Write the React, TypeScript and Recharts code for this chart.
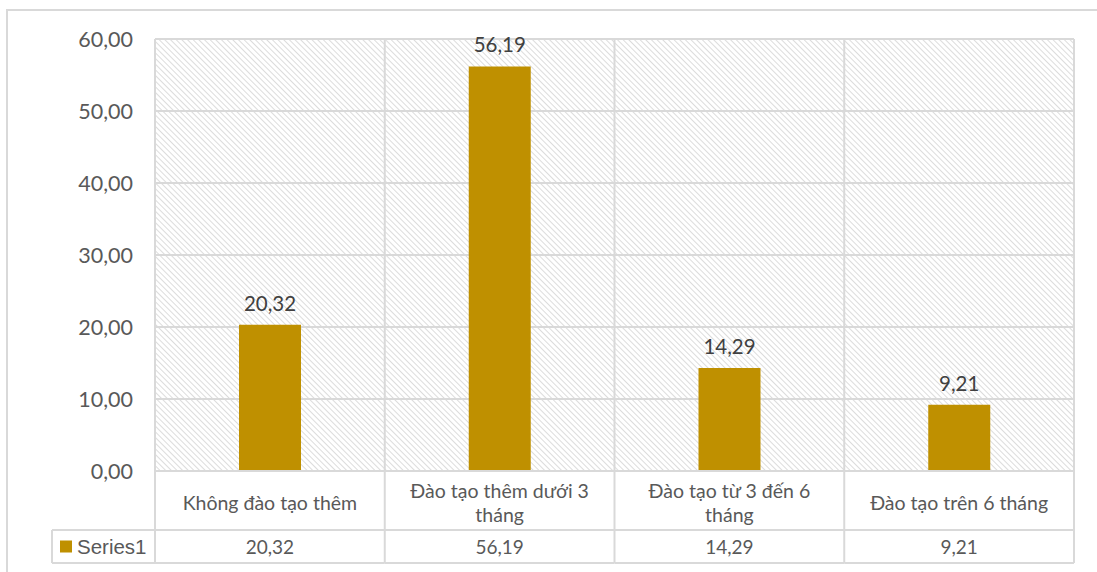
import React from "react";
import { Bar, BarChart, CartesianGrid, LabelList, XAxis, YAxis } from "recharts";

const categories = ["Không đào tạo thêm", "Đào tạo thêm dưới 3 tháng", "Đào tạo từ 3 đến 6 tháng", "Đào tạo trên 6 tháng"];
const categoryLines = [["Không đào tạo thêm"], ["Đào tạo thêm dưới 3", "tháng"], ["Đào tạo từ 3 đến 6", "tháng"], ["Đào tạo trên 6 tháng"]];
const series1 = [20.32, 56.19, 14.29, 9.21];
const yTicks = [0, 10, 20, 30, 40, 50, 60];
const seriesName = "Series1";

const W = 1097;
const H = 572;
const margin = { top: 39, right: 23, bottom: 0, left: 95 };
const Y_W = 60;
const plotW = W - margin.left - margin.right - Y_W;
const colW = plotW / categories.length;
const GRID = "#d9d9d9";
const TEXT = "#595959";
const FONT = "Lato, Carlito, Calibri, sans-serif";

const data = categories.map((name, i) => ({ name, value: series1[i] }));
const fmt = (v: number) => v.toFixed(2).replace(".", ",");

function TableTick(props: any) {
    const { x, y, index } = props;
    const half = colW / 2;
    const row1 = y + 59;
    const row2 = y + 92;
    const lines = categoryLines[index];
    const mid = y + 31;
    return (
        <g>
            <line x1={x + half} y1={y} x2={x + half} y2={row2} stroke={GRID} strokeWidth={2} />
            {index === 0 && <line x1={x - half} y1={y} x2={x - half} y2={row2} stroke={GRID} strokeWidth={2} />}
            <line x1={x - half} y1={row1} x2={x + half} y2={row1} stroke={GRID} strokeWidth={2} />
            <line x1={x - half} y1={row2} x2={x + half} y2={row2} stroke={GRID} strokeWidth={2} />
            {lines.map((t, i) => (
                <text key={i} x={x} y={mid + (i - (lines.length - 1) / 2) * 24} textAnchor="middle" dominantBaseline="central"
                      fill={TEXT} fontSize={19.5} fontFamily={FONT}>{t}</text>
            ))}
            <text x={x} y={(row1 + row2) / 2} textAnchor="middle" dominantBaseline="central" fill={TEXT} fontSize={19} fontFamily={FONT}>
                {fmt(series1[index])}
            </text>
            {index === 0 && (
                <g>
                    <line x1={x - half - 103} y1={row1} x2={x - half} y2={row1} stroke={GRID} strokeWidth={2} />
                    <line x1={x - half - 103} y1={row2} x2={x - half} y2={row2} stroke={GRID} strokeWidth={2} />
                    <line x1={x - half - 103} y1={row1} x2={x - half - 103} y2={row2} stroke={GRID} strokeWidth={2} />
                    <rect x={x - half - 95} y={(row1 + row2) / 2 - 6} width={12} height={12} fill="#bf9000" />
                    <text x={x - half - 78} y={(row1 + row2) / 2} dominantBaseline="central" fill={TEXT} fontSize={20.5}
                          fontFamily="'Liberation Sans', Arial, sans-serif">{seriesName}</text>
                </g>
            )}
        </g>
    );
}

export default function App() {
    return (
        <div style={{ position: "absolute", left: 0, top: 0, width: W, height: H, overflow: "hidden", background: "#fff" }}>
            <div style={{ position: "absolute", left: 6, top: 9, width: W + 20, height: H + 20, border: `2px solid ${GRID}` }} />
            <BarChart width={W} height={H} data={data} margin={margin} barCategoryGap={0} style={{ position: "absolute", left: 0, top: 0 }}>
                <defs>
                    <pattern id="hatch" width="4" height="4" patternUnits="userSpaceOnUse" patternTransform="rotate(-45)">
                        <rect width="4" height="4" fill="#ffffff" />
                        <line x1="0" y1="0" x2="0" y2="4" stroke="#d4d4d4" strokeWidth="1.6" />
                    </pattern>
                </defs>
                <CartesianGrid
                    fill="url(#hatch)"
                    fillOpacity={1}
                    stroke={GRID}
                    strokeWidth={2}
                    verticalCoordinatesGenerator={({ offset }: any) =>
                        categories.map((_, i) => offset.left + i * (offset.width / categories.length)).concat(offset.left + offset.width)}
                />
                <XAxis dataKey="name" height={101} axisLine={{ stroke: GRID, strokeWidth: 2 }} tickLine={false} tickSize={0} tickMargin={0}
                       interval={0} tick={<TableTick />} />
                <YAxis width={Y_W} domain={[0, 60]} ticks={yTicks} axisLine={false} tickLine={false} tickSize={0} tickMargin={22}
                       tickFormatter={fmt} tick={{ fill: TEXT, fontSize: 21.5, fontFamily: FONT }} />
                <Bar dataKey="value" name={seriesName} fill="#bf9000" barSize={62} isAnimationActive={false}>
                    <LabelList dataKey="value" position="top" offset={14} formatter={(v: any) => fmt(Number(v))}
                               style={{ fill: "#404040", fontSize: 20.5, fontFamily: FONT }} />
                </Bar>
            </BarChart>
        </div>
    );
}
